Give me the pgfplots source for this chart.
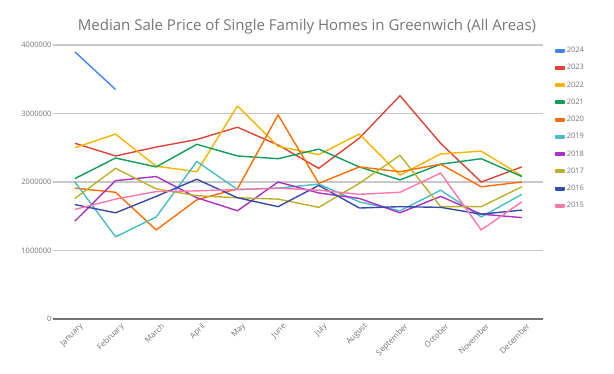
\documentclass[border=0pt]{standalone}
\usepackage{pgfplots}
\pgfplotsset{compat=1.18}
\usepackage{fontspec}
\setmainfont{Open Sans}
\definecolor{c24}{HTML}{4285F4}
\definecolor{c23}{HTML}{DB4437}
\definecolor{c22}{HTML}{F4B400}
\definecolor{c21}{HTML}{0F9D58}
\definecolor{c20}{HTML}{FF6D01}
\definecolor{c19}{HTML}{46BDC6}
\definecolor{c18}{HTML}{AB30C4}
\definecolor{c17}{HTML}{BBB02A}
\definecolor{c16}{HTML}{3949AB}
\definecolor{c15}{HTML}{FF77AA}
\definecolor{txt}{HTML}{757575}
\definecolor{gridc}{RGB}{200,200,200}
\begin{document}
\begin{tikzpicture}[x=1pt,y=1pt]
\useasboundingbox (-53,-55) rectangle (561,319);
\node[text=txt, font=\fontsize{15}{18}\selectfont] at (254,292) {Median Sale Price of Single Family Homes in Greenwich (All Areas)};
\begin{axis}[
  at={(0,0)}, anchor=south west,
  scale only axis, width=490pt, height=274pt,
  xmin=-0.54, xmax=11.52, ymin=0, ymax=4000000,
  xtick={0,...,11},
  xticklabels={January,February,March,April,May,June,July,August,September,October,November,December},
  x tick label style={rotate=45, anchor=north east, font=\fontsize{8}{9}\selectfont, text=txt, xshift=4pt, yshift=-2pt},
  ytick={0,1000000,2000000,3000000,4000000},
  y tick label style={font=\fontsize{7.5}{9}\selectfont, text=txt, xshift=2pt},
  scaled y ticks=false,
  yticklabel style={/pgf/number format/fixed, /pgf/number format/1000 sep={}, /pgf/number format/assume math mode=true},
  tick style={draw=none},
  axis line style={draw=none},
  clip=false,
  every axis plot/.append style={line width=1.4pt, line join=round, no markers},
  legend style={at={(1.025,1)}, anchor=north west, draw=none, fill=none, font=\fontsize{7.5}{9}\selectfont, text=txt, row sep=6.3pt, inner sep=0pt},
  legend cell align=left,
  legend image code/.code={\fill (0pt,-1.3pt) rectangle (8pt,1.3pt);},
]
\addplot[gridc, line width=1.2pt, forget plot] coordinates {(-0.54,1000000) (11.52,1000000)};
\addplot[gridc, line width=1.2pt, forget plot] coordinates {(-0.54,2000000) (11.52,2000000)};
\addplot[gridc, line width=1.2pt, forget plot] coordinates {(-0.54,3000000) (11.52,3000000)};
\addplot[gridc, line width=1.2pt, forget plot] coordinates {(-0.54,4000000) (11.52,4000000)};
\addplot[black!55, line width=1.2pt, forget plot] coordinates {(-0.54,0) (11.52,0)};
\addplot[c24] coordinates {(0,3900000) (1,3350000)};
\addplot[c23] coordinates {(0,2565000) (1,2380000) (2,2510000) (3,2620000) (4,2800000) (5,2540000) (6,2200000) (7,2640000) (8,3260000) (9,2565000) (10,2000000) (11,2220000)};
\addplot[c22] coordinates {(0,2500000) (1,2700000) (2,2230000) (3,2150000) (4,3110000) (5,2520000) (6,2400000) (7,2700000) (8,2100000) (9,2410000) (10,2450000) (11,2090000)};
\addplot[c21] coordinates {(0,2050000) (1,2350000) (2,2220000) (3,2550000) (4,2380000) (5,2340000) (6,2480000) (7,2220000) (8,2030000) (9,2260000) (10,2340000) (11,2080000)};
\addplot[c20] coordinates {(0,1910000) (1,1850000) (2,1300000) (3,1740000) (4,1900000) (5,2980000) (6,1980000) (7,2220000) (8,2150000) (9,2260000) (10,1930000) (11,2000000)};
\addplot[c19] coordinates {(0,2000000) (1,1200000) (2,1490000) (3,2300000) (4,1890000) (5,1910000) (6,1970000) (7,1710000) (8,1580000) (9,1880000) (10,1490000) (11,1820000)};
\addplot[c18] coordinates {(0,1430000) (1,2020000) (2,2080000) (3,1770000) (4,1580000) (5,2000000) (6,1840000) (7,1760000) (8,1550000) (9,1790000) (10,1530000) (11,1480000)};
\addplot[c17] coordinates {(0,1760000) (1,2200000) (2,1900000) (3,1800000) (4,1770000) (5,1750000) (6,1630000) (7,1980000) (8,2390000) (9,1640000) (10,1640000) (11,1930000)};
\addplot[c16] coordinates {(0,1670000) (1,1550000) (2,1790000) (3,2040000) (4,1770000) (5,1640000) (6,1950000) (7,1620000) (8,1640000) (9,1630000) (10,1530000) (11,1590000)};
\addplot[c15] coordinates {(0,1600000) (1,1750000) (2,1860000) (3,1870000) (4,1890000) (5,1910000) (6,1880000) (7,1820000) (8,1850000) (9,2130000) (10,1300000) (11,1710000)};
\legend{2024,2023,2022,2021,2020,2019,2018,2017,2016,2015}
\end{axis}
\end{tikzpicture}
\end{document}
